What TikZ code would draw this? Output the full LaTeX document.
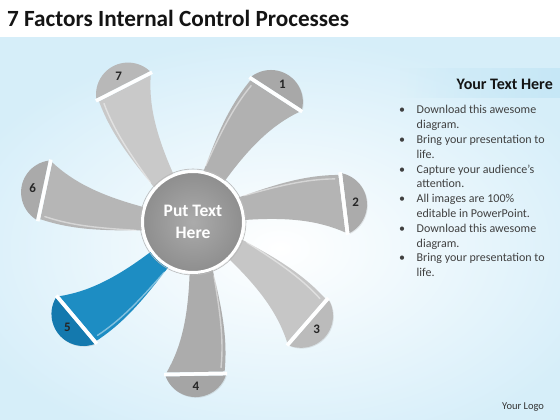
\documentclass[tikz,border=0pt]{standalone}
\usepackage{fontspec}
\setmainfont{Carlito}
\usetikzlibrary{shadows,fadings}
\tikzfading[name=bandfade, left color=transparent!100, right color=transparent!0]
\definecolor{bgblue}{HTML}{D6EEF9}
\definecolor{bandblue}{HTML}{C6E7F6}
\definecolor{bA}{HTML}{B1B1B1}\definecolor{cA}{HTML}{A8A8A8}
\definecolor{bB}{HTML}{B4B4B4}\definecolor{cB}{HTML}{ABABAB}
\definecolor{bC}{HTML}{C6C6C6}\definecolor{cC}{HTML}{BBBBBB}
\definecolor{bD}{HTML}{ACACAC}\definecolor{cD}{HTML}{A5A5A5}
\definecolor{bE}{HTML}{1D8DC3}\definecolor{cE}{HTML}{1479AE}
\definecolor{bF}{HTML}{B6B6B6}\definecolor{cF}{HTML}{AAAAAA}
\definecolor{bG}{HTML}{C9C9C9}\definecolor{cG}{HTML}{B8B8B8}
\definecolor{hubin}{HTML}{ABABAB}
\definecolor{hubout}{HTML}{8E8E8E}
\tikzset{
  bladebody/.style={draw=none},
  bladestripe/.style={draw=white, draw opacity=0.45, line width=1.4pt, line cap=round},
  capshape/.style={draw=none, drop shadow={opacity=0.18, shadow xshift=0.8pt, shadow yshift=-0.8pt}},
  gapline/.style={draw=white, line width=3.5pt},
  numlabel/.style={font=\fontsize{13}{13}\selectfont\bfseries, text=black!85, inner sep=0pt},
  bullettext/.style={anchor=base west, font=\fontsize{12}{12}\selectfont, text=black!75, inner sep=0pt},
  bulletdot/.style={anchor=base, font=\fontsize{12}{12}\selectfont, text=black!75, inner sep=0pt},
}
\begin{document}
\begin{tikzpicture}[x=1pt,y=1pt]
\useasboundingbox (0,0) rectangle (560,420);
% background
\fill[white] (0,0) rectangle (560,420);
\shade[inner color=white, outer color=bgblue] (-60,-40) rectangle (620,383);
\fill[white] (0,383) rectangle (560,420);
\fill[bandblue, path fading=bandfade] (400,322) rectangle (560,352);
% title
\node[anchor=base west, inner sep=0pt, font=\fontsize{23.2}{27}\selectfont\bfseries, text=black!92] (title) at (7,393) {7 Factors Internal Control Processes};
% blades
\foreach \ang/\num/\bc/\cc in {57/1/bA/cA, 7/2/bB/cB, 319/3/bC/cC, 271/4/bD/cD, 220/5/bE/cE, 168/6/bF/cF, 117/7/bG/cG}{
  \begin{scope}[shift={(193,198)}, rotate=\ang]
    \fill[bladebody, fill=\bc] (40,17) .. controls (85,27) and (115,33) .. (150,29) -- (150,-29)
       .. controls (125,-14) and (95,-6) .. (45,-4) -- cycle;
    \draw[bladestripe] (54,20) .. controls (88,25) and (116,29) .. (146,25.5);
    \fill[capshape, fill=\cc] (154,-30) arc[start angle=-70, end angle=70, radius=32] -- cycle;
    \draw[gapline] (152,-31.5) -- (152,31.5);
    \node[numlabel] (n\num) at (164,0) {\num};
  \end{scope}
}
% hub
\draw[gray!55, line width=0.6pt] (193,198) circle[radius=53];
\node[circle, minimum size=101pt, inner sep=0pt, draw=white, line width=3pt, inner color=hubin, outer color=hubout,
  drop shadow={opacity=0.25, shadow xshift=1pt, shadow yshift=-1.5pt},
  text=white, align=center, font=\fontsize{17.5}{22.5}\selectfont\bfseries] (hub) at (193,198) {Put Text\\Here};
% right panel
\node[anchor=base east, inner sep=0pt, font=\fontsize{16}{16}\selectfont\bfseries, text=black!92] (head) at (553,330) {Your Text Here};
\foreach \i/\t/\b in {0/Download this awesome/1, 1/diagram./0, 2/Bring your presentation to/1, 3/life./0, 4/Capture your audience’s/1, 5/attention./0, 6/All images are 100\%/1, 7/editable in PowerPoint./0, 8/Download this awesome/1, 9/diagram./0, 10/Bring your presentation to/1, 11/life./0}{
  \node[bullettext] (line\i) at (416.5,{306-14.8*\i}) {\t};
  \ifnum\b=1 \node[bulletdot] (dot\i) at (402,{306-14.8*\i}) {•};\fi
}
\node[anchor=base west, inner sep=0pt, font=\fontsize{10.5}{10.5}\selectfont, text=black!80] (logo) at (502,10) {Your Logo};
\end{tikzpicture}
\end{document}
